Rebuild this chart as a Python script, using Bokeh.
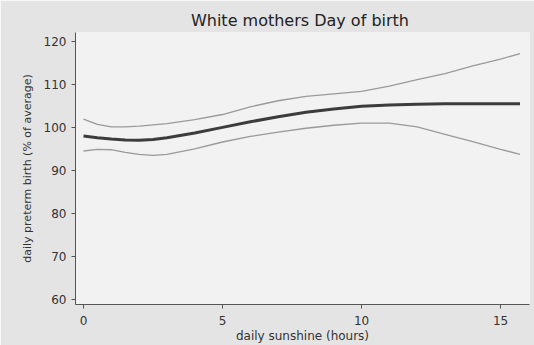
from bokeh.plotting import figure
from bokeh.models import Range1d, FixedTicker
from bokeh.embed import file_html
from bokeh.resources import INLINE

# Data
sunshine = [0, 0.5, 1, 1.5, 2, 2.5, 3, 4, 5, 6, 7, 8, 9, 10, 11, 12, 13, 14, 15, 15.7]
estimate = [98.0, 97.6, 97.3, 97.05, 97.0, 97.2, 97.6, 98.7, 100.0, 101.3, 102.5, 103.5,
            104.3, 104.9, 105.2, 105.4, 105.5, 105.5, 105.5, 105.5]
upper_ci = [101.9, 100.7, 100.1, 100.1, 100.3, 100.6, 100.9, 101.8, 103.0, 104.8, 106.2,
            107.2, 107.8, 108.4, 109.6, 111.1, 112.5, 114.3, 115.9, 117.2]
lower_ci = [94.5, 94.9, 94.8, 94.2, 93.7, 93.5, 93.7, 95.0, 96.6, 97.9, 98.9, 99.8,
            100.5, 101.0, 101.0, 100.1, 98.4, 96.7, 94.9, 93.7]
x_ticks = [0, 5, 10, 15]
y_ticks = [60, 70, 80, 90, 100, 110, 120]

title_text = "White mothers  Day of birth"
x_label = "daily sunshine (hours)"
y_label = "daily preterm birth (% of average)"

FONT = "DejaVu Sans"

p = figure(width=534, height=345, output_backend="svg", toolbar_location=None,
           x_range=Range1d(-0.288, 16.04), y_range=Range1d(58.77, 122.09),
           min_border_left=75, min_border_right=5, min_border_bottom=40, min_border_top=32)

p.title.text = title_text
p.title.align = "center"
p.title.text_font = FONT
p.title.text_font_size = "16px"
p.title.text_font_style = "normal"
p.title.text_color = "#222222"
p.title.standoff = 5

p.border_fill_color = "#e4e4e4"
p.background_fill_color = "#f2f2f2"
p.outline_line_color = None
p.grid.grid_line_color = None

for ax in (p.xaxis[0], p.yaxis[0]):
    ax.axis_line_color = "#555555"
    ax.axis_line_width = 1
    ax.major_tick_line_color = "#555555"
    ax.major_tick_out = 4
    ax.major_tick_in = 0
    ax.minor_tick_line_color = None
    ax.major_label_text_font = FONT
    ax.major_label_text_font_size = "12px"
    ax.major_label_text_color = "#333333"
    ax.axis_label_text_font = FONT
    ax.axis_label_text_font_style = "normal"
    ax.axis_label_text_color = "#333333"

p.xaxis.ticker = FixedTicker(ticks=x_ticks)
p.yaxis.ticker = FixedTicker(ticks=y_ticks)
p.xaxis.axis_label = x_label
p.yaxis.axis_label = y_label
p.xaxis.axis_label_text_font_size = "12px"
p.yaxis.axis_label_text_font_size = "11px"
p.xaxis.major_label_standoff = 7
p.xaxis.axis_label_standoff = 1
p.yaxis.major_label_standoff = 5
p.yaxis.axis_label_standoff = 7

p.line(sunshine, upper_ci, line_color="#9a9a9a", line_width=1.3)
p.line(sunshine, lower_ci, line_color="#9a9a9a", line_width=1.3)
p.line(sunshine, estimate, line_color="#3c3c3c", line_width=3)

open("out.html", "w").write(file_html(p, INLINE))
